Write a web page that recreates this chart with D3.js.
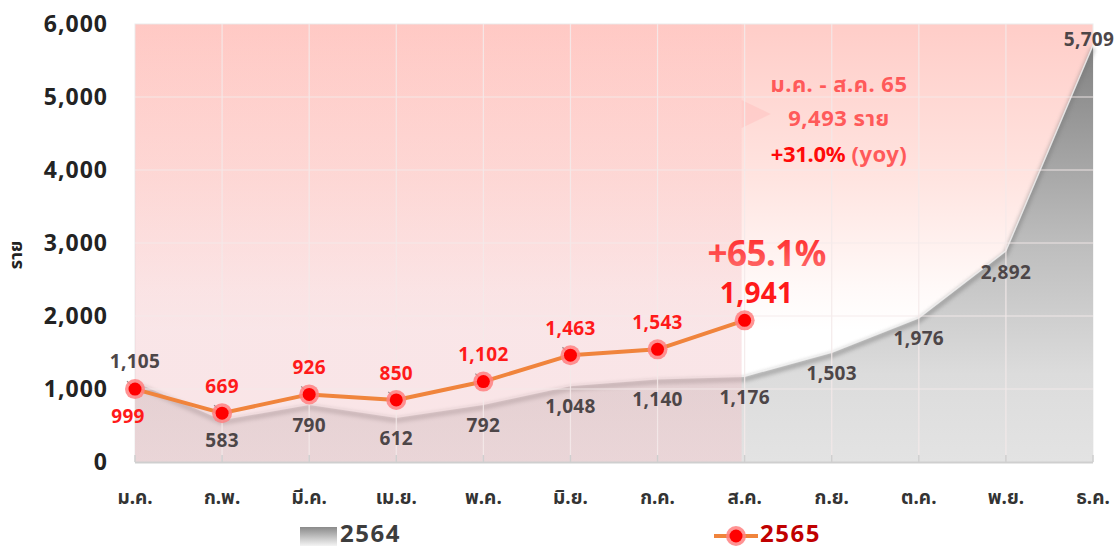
<!DOCTYPE html>
<html>
<head>
<meta charset="utf-8">
<script src="https://cdn.jsdelivr.net/npm/d3@7"></script>
<style>
  body { margin: 0; background: #fff; }
  svg { display: block; font-family: "Noto Sans", "Noto Sans Thai", sans-serif; font-weight: 700; }
</style>
</head>
<body>
<div id="chart"></div>
<script>
// months (Thai abbreviations)
const months = ["ม.ค.", "ก.พ.", "มี.ค.", "เม.ย.", "พ.ค.", "มิ.ย.", "ก.ค.", "ส.ค.", "ก.ย.", "ต.ค.", "พ.ย.", "ธ.ค."];
const values2564 = [1105, 583, 790, 612, 792, 1048, 1140, 1176, 1503, 1976, 2892, 5709];
const values2565 = [999, 669, 926, 850, 1102, 1463, 1543, 1941];
const yTicks = [0, 1000, 2000, 3000, 4000, 5000, 6000];
const seriesNames = ["2564", "2565"];
const summaryLines = ["ม.ค. - ส.ค. 65", "9,493 ราย"];
const yoyMain = "+31.0%";
const yoyTail = " (yoy)";
const lastGrowth = "+65.1%";

const W = 1115, H = 549;
const margin = { top: 24, right: 22, bottom: 87, left: 135 };
const fmt = d3.format(",");

const svg = d3.select("#chart").append("svg").attr("width", W).attr("height", H);
const defs = svg.append("defs");

const x = d3.scalePoint().domain(months).range([margin.left, W - margin.right]).padding(0);
const y = d3.scaleLinear().domain([0, 6000]).range([H - margin.bottom, margin.top]);

const plotL = margin.left, plotR = W - margin.right, plotT = y(6000), plotB = y(0);

// gradients
function vGrad(id, stops, y1, y2) {
  const g = defs.append("linearGradient").attr("id", id)
    .attr("gradientUnits", "userSpaceOnUse")
    .attr("x1", 0).attr("x2", 0).attr("y1", y1).attr("y2", y2);
  stops.forEach(s => g.append("stop").attr("offset", s[0]).attr("stop-color", s[1]).attr("stop-opacity", s[2] == null ? 1 : s[2]));
}
vGrad("bgGrad", [[0, "#ffcdc8"], [0.35, "#ffe4e0"], [0.6, "#fff9f8"], [0.7, "#ffffff"]], plotT, plotB);
vGrad("areaGrad", [[0, "#7b7b7b"], [0.5, "#bdbdbd"], [0.8, "#dcdcdc"], [1, "#e3e3e3"]], plotT, plotB);
vGrad("leftGrad", [[0, "#ff9c9c", 0.08], [0.7, "#efb8be", 0.36], [1, "#f3c4c9", 0.44]], plotT, plotB);
vGrad("legGrad", [[0, "#8a8a8a"], [1, "#f4f4f4"]], 527, 546);
vGrad("bigRed", [[0, "#ff2a2a"], [1, "#ff6a6a"]], 235, 270);

const blur = defs.append("filter").attr("id", "shadow").attr("x", "-10%").attr("y", "-50%").attr("width", "120%").attr("height", "200%");
blur.append("feGaussianBlur").attr("stdDeviation", 2.2);

// plot background
svg.append("rect")
  .attr("x", plotL).attr("y", plotT).attr("width", plotR - plotL).attr("height", plotB - plotT)
  .attr("fill", "url(#bgGrad)").attr("stroke", "#ececec");

// 2564 area
const area = d3.area().x((d, i) => x(months[i])).y0(y(0)).y1(d => y(d));
svg.append("path").datum(values2564).attr("d", area).attr("fill", "url(#areaGrad)");

// shadow + edge of 2564 line
const line64 = d3.line().x((d, i) => x(months[i])).y(d => y(d));
svg.append("path").datum(values2564).attr("d", line64)
  .attr("fill", "none").attr("stroke", "#777").attr("stroke-width", 4).attr("opacity", 0.6)
  .attr("transform", "translate(0,3)").attr("filter", "url(#shadow)");
svg.append("path").datum(values2564).attr("d", line64)
  .attr("fill", "none").attr("stroke", "#f4f4f4").attr("stroke-width", 1.5).attr("opacity", 0.8);

// Jan-Aug highlight band
const bandR = x("ส.ค.") - 3;
svg.append("rect")
  .attr("x", plotL).attr("y", plotT).attr("width", bandR - plotL).attr("height", plotB - plotT)
  .attr("fill", "url(#leftGrad)");
const triY = 114;
svg.append("path")
  .attr("d", `M${bandR},${triY - 14}L${bandR + 29},${triY}L${bandR},${triY + 14}Z`)
  .attr("fill", "#ffb4b4").attr("opacity", 0.35);

// grid
const grid = svg.append("g").attr("stroke", "#f4eaea").attr("stroke-width", 1.2).attr("opacity", 0.9);
grid.selectAll(".h").data(yTicks.slice(1, -1)).join("line")
  .attr("x1", plotL).attr("x2", plotR).attr("y1", d => y(d)).attr("y2", d => y(d));
grid.selectAll(".v").data(months.slice(1, -1)).join("line")
  .attr("x1", d => x(d)).attr("x2", d => x(d)).attr("y1", plotT).attr("y2", plotB);

// x axis line + inner ticks
svg.append("line").attr("x1", plotL).attr("x2", plotR).attr("y1", plotB + 0.5).attr("y2", plotB + 0.5)
  .attr("stroke", "#cfcfcf").attr("stroke-width", 2);
svg.append("g").selectAll("line").data(months).join("line")
  .attr("x1", d => x(d)).attr("x2", d => x(d)).attr("y1", plotB - 7).attr("y2", plotB)
  .attr("stroke", "#cfcfcf").attr("stroke-width", 1.5);

// y tick labels
svg.append("g").selectAll("text").data(yTicks).join("text")
  .attr("x", 108).attr("y", d => y(d)).attr("dy", "0.35em")
  .attr("text-anchor", "end").attr("font-size", 23).attr("fill", "#232323")
  .attr("letter-spacing", 1)
  .text(d => fmt(d));

// y title
svg.append("text")
  .attr("transform", `translate(16,${(plotT + plotB) / 2 + 12}) rotate(-90)`)
  .attr("text-anchor", "middle").attr("dy", "0.35em")
  .attr("font-size", 18).attr("fill", "#222").text("ราย");

// x labels
svg.append("g").selectAll("text").data(months).join("text")
  .attr("x", d => x(d)).attr("y", 497).attr("dy", "0.35em")
  .attr("text-anchor", "middle").attr("font-size", 19).attr("fill", "#333")
  .text(d => d);

// 2565 line + markers
svg.append("path").datum(values2565).attr("d", line64)
  .attr("fill", "none").attr("stroke", "#f0843c").attr("stroke-width", 4).attr("stroke-linejoin", "round");

// small connectors from earlier points
const conn = values2565.slice(0, 6);
svg.append("g").selectAll("line").data(conn).join("line")
  .attr("x1", (d, i) => x(months[i])).attr("y1", d => y(d))
  .attr("x2", (d, i) => x(months[i]) - 8).attr("y2", d => y(d) - 8)
  .attr("stroke", "#9a8a8a").attr("stroke-width", 1.2);

const markers = svg.append("g").selectAll("g").data(values2565).join("g")
  .attr("transform", (d, i) => `translate(${x(months[i])},${y(d)})`);
markers.append("circle").attr("r", 10).attr("fill", "#ff8080").attr("opacity", 0.85);
markers.append("circle").attr("r", 6.5).attr("fill", "#ff0000");

// 2564 labels (below, except Jan above and Dec above-left)
svg.append("g").selectAll("text").data(values2564).join("text")
  .attr("x", (d, i) => x(months[i]) + (i === 11 ? -4 : 0))
  .attr("y", (d, i) => y(d) + (i === 0 ? -20 : i === 11 ? -6 : 21))
  .attr("dy", "0.35em").attr("text-anchor", "middle")
  .attr("font-size", 19).attr("fill", "#4d4648").attr("letter-spacing", 0.3)
  .text(d => fmt(d));

// 2565 labels (above, except Jan below)
svg.append("g").selectAll("text").data(values2565).join("text")
  .attr("x", (d, i) => x(months[i]) + (i === 0 ? -7 : i === 7 ? 12 : 0))
  .attr("y", (d, i) => y(d) + (i === 0 ? 27 : -27))
  .attr("dy", "0.35em").attr("text-anchor", "middle")
  .attr("font-size", (d, i) => i === 7 ? 28 : 19)
  .attr("fill", "#ff1a1a").attr("letter-spacing", 0.3)
  .text(d => fmt(d));

// growth callout on last point
const lastIdx = values2565.length - 1;
svg.append("text")
  .attr("x", x(months[lastIdx]) + 22).attr("y", y(values2565[lastIdx]) - 67)
  .attr("dy", "0.35em").attr("text-anchor", "middle")
  .attr("font-size", 35).attr("fill", "url(#bigRed)").attr("letter-spacing", -0.5)
  .text(lastGrowth);

// summary box text
const sumX = 839;
svg.append("g").selectAll("text").data(summaryLines).join("text")
  .attr("x", sumX).attr("y", (d, i) => 84 + i * 34).attr("dy", "0.35em")
  .attr("text-anchor", "middle").attr("font-size", 22).attr("fill", "#ff5a5a")
  .attr("letter-spacing", 0.5)
  .text(d => d);
const yoy = svg.append("text").attr("x", sumX).attr("y", 154).attr("dy", "0.35em")
  .attr("text-anchor", "middle").attr("font-size", 22);
yoy.append("tspan").attr("fill", "#ff0a0a").attr("letter-spacing", -0.3).text(yoyMain);
yoy.append("tspan").attr("fill", "#ff5a5a").attr("letter-spacing", 0.5).text(yoyTail);

// legend
const leg = svg.append("g");
leg.append("rect").attr("x", 300).attr("y", 527).attr("width", 37).attr("height", 19).attr("fill", "url(#legGrad)");
leg.append("text").attr("x", 340).attr("y", 542)
  .attr("font-size", 24).attr("letter-spacing", 1.5).attr("fill", "#3d3d3d").text(seriesNames[0]);
leg.append("line").attr("x1", 714).attr("x2", 758).attr("y1", 536).attr("y2", 536)
  .attr("stroke", "#f0843c").attr("stroke-width", 4);
leg.append("circle").attr("cx", 736).attr("cy", 536).attr("r", 10).attr("fill", "#ff8080").attr("opacity", 0.85);
leg.append("circle").attr("cx", 736).attr("cy", 536).attr("r", 6.5).attr("fill", "#ff0000");
leg.append("text").attr("x", 760).attr("y", 542)
  .attr("font-size", 24).attr("letter-spacing", 1.5).attr("fill", "#c00000").text(seriesNames[1]);
</script>
</body>
</html>
